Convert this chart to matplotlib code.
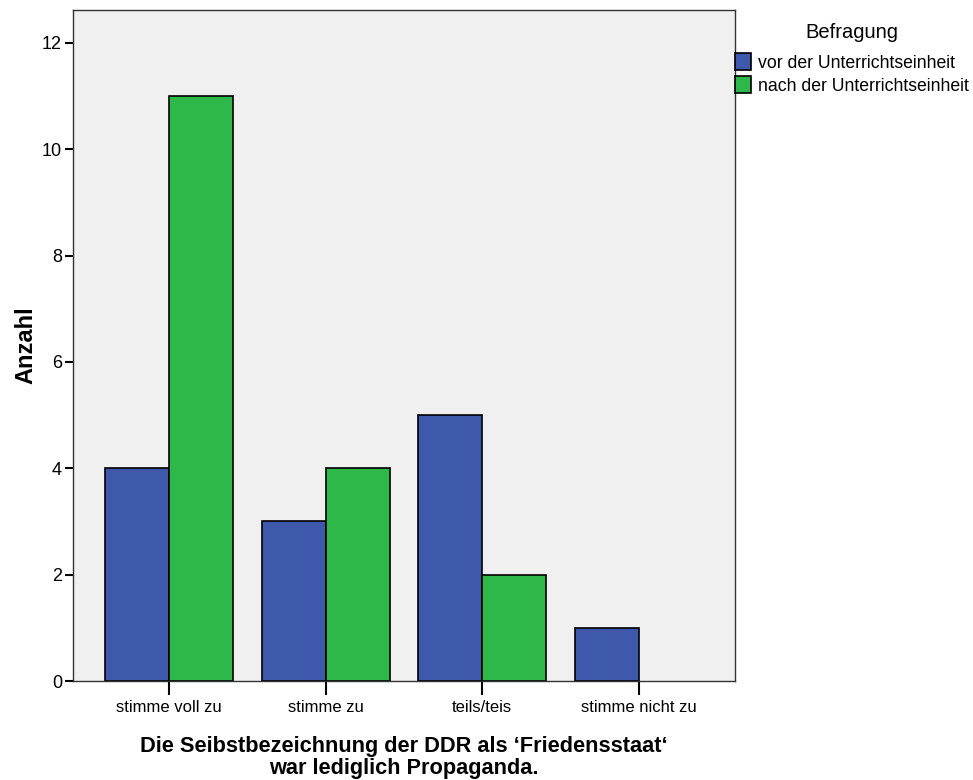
import matplotlib
matplotlib.use("Agg")
import matplotlib.pyplot as plt
import numpy as np
from matplotlib.patches import Patch

categories = ["stimme voll zu", "stimme zu", "teils/teis", "stimme nicht zu"]
vor = [4, 3, 5, 1]
nach = [11, 4, 2, 0]
series_labels = ["vor der Unterrichtseinheit", "nach der Unterrichtseinheit"]
yticks = [0, 2, 4, 6, 8, 10, 12]

plt.rcParams['font.family'] = ['Liberation Sans', 'DejaVu Sans']

blue = "#3E59AC"
green = "#2EB84A"

fig = plt.figure(figsize=(9.73, 7.8), dpi=100)
ax = fig.add_axes([73/973, 1-681/780, (735-73)/973, (681-10)/780])
ax.set_facecolor("#F0F0F0")

x = np.arange(len(categories))
w = 0.41
ax.bar(x - w/2, vor, w, color=blue, edgecolor="black", linewidth=1.2)
nach_x = [xi + w/2 for xi, v in zip(x, nach) if v > 0]
nach_v = [v for v in nach if v > 0]
ax.bar(nach_x, nach_v, w, color=green, edgecolor="black", linewidth=1.2)

ax.set_xlim(-0.615, 3.615)
ax.set_ylim(0, 12.62)
ax.set_yticks(yticks)
ax.set_yticklabels([str(t) for t in yticks], fontsize=13)
ax.set_xticks(x)
ax.set_xticklabels(categories, fontsize=12)
ax.tick_params(axis='x', length=10, width=1.5, pad=4)
ax.tick_params(axis='y', length=6, width=1.5, pad=2)
for s in ax.spines.values():
    s.set_color("#333333")
    s.set_linewidth(1.0)

ax.set_ylabel("Anzahl", fontsize=17, fontweight="bold", labelpad=3)
ax.set_xlabel("Die Seibstbezeichnung der DDR als \u2018Friedensstaat\u2018\nwar lediglich Propaganda.",
              fontsize=15.7, fontweight="bold", linespacing=1.05, labelpad=15)

handles = [Patch(facecolor=blue, edgecolor="black", linewidth=1.2),
           Patch(facecolor=green, edgecolor="black", linewidth=1.2)]
leg = fig.legend(handles, series_labels, title="Befragung", loc="upper left",
                 bbox_to_anchor=(728/973, 1-16/780), frameon=False, fontsize=12.7,
                 title_fontsize=14.5, handlelength=0.9, handleheight=1.1,
                 handletextpad=0.4, labelspacing=0.25, borderaxespad=0)
leg._legend_box.align = "center"
leg._legend_box.sep = 8

fig.savefig("out.png", dpi=100)
